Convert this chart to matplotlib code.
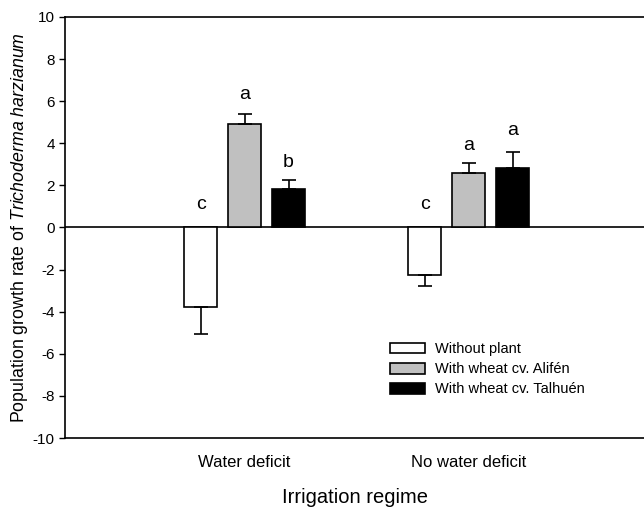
import matplotlib
matplotlib.use("Agg")
import matplotlib.pyplot as plt
import numpy as np

plt.rcParams['font.family'] = ['Liberation Sans', 'DejaVu Sans']
plt.rcParams['mathtext.fontset'] = 'custom'
plt.rcParams['mathtext.it'] = 'Liberation Sans:italic'
plt.rcParams['mathtext.rm'] = 'Liberation Sans'

groups = ["Water deficit", "No water deficit"]
series = ["Without plant", "With wheat cv. Alifén", "With wheat cv. Talhuén"]
values = {
    "Without plant": [-3.8, -2.25],
    "With wheat cv. Alifén": [4.9, 2.6],
    "With wheat cv. Talhuén": [1.85, 2.8],
}
errors = {
    "Without plant": [1.25, 0.52],
    "With wheat cv. Alifén": [0.5, 0.45],
    "With wheat cv. Talhuén": [0.4, 0.8],
}
letters = {
    "Without plant": ["c", "c"],
    "With wheat cv. Alifén": ["a", "a"],
    "With wheat cv. Talhuén": ["b", "a"],
}
letter_y = {
    "Without plant": [1.1, 1.1],
    "With wheat cv. Alifén": [6.3, 3.9],
    "With wheat cv. Talhuén": [3.1, 4.6],
}
colors = ["white", "#c0c0c0", "black"]
yticks = [-10, -8, -6, -4, -2, 0, 2, 4, 6, 8, 10]

fig = plt.figure(figsize=(6.44, 5.12), dpi=100)
ax = fig.add_axes([0.101, 0.1445, 0.899, 0.8225])

x = np.arange(len(groups))
width = 0.147
offsets = [-0.196, 0.0, 0.196]

for s, off, c in zip(series, offsets, colors):
    v = np.array(values[s])
    e = np.array(errors[s])
    lower = np.where(v < 0, e, 0)
    upper = np.where(v >= 0, e, 0)
    ax.bar(x + off, v, width, color=c, edgecolor="black", linewidth=1.2, label=s, zorder=2)
    ax.errorbar(x + off, v, yerr=[lower, upper], fmt="none", ecolor="black",
                elinewidth=1.2, capsize=5, capthick=1.2, zorder=3)
    for xi, t, ly in zip(x + off, letters[s], letter_y[s]):
        ax.text(xi, ly, t, ha="center", va="center", fontsize=14)

ax.axhline(0, color="black", linewidth=1.2, zorder=1)
ax.set_xlim(-0.80, 1.78)
ax.set_ylim(-10, 10)
ax.set_yticks(yticks)
ax.set_yticklabels([str(t) for t in yticks], fontsize=11)
ax.set_xticks(x)
ax.set_xticklabels(groups, fontsize=12)
ax.tick_params(axis="x", length=0, pad=12)
ax.tick_params(axis="y", direction="out", length=4, width=1)
for sp in ["top", "bottom", "left"]:
    ax.spines[sp].set_linewidth(1.2)
ax.spines["right"].set_visible(False)

ax.set_xlabel("Irrigation regime", fontsize=14.5, labelpad=13)
ax.set_ylabel(r"Population growth rate of $\it{Trichoderma\ harzianum}$", fontsize=12.8, labelpad=2)

leg = ax.legend(loc="lower left", bbox_to_anchor=(0.551, 0.085), frameon=False,
                fontsize=10.5, handlelength=2.4, handleheight=0.75, handletextpad=0.7,
                labelspacing=0.42, borderaxespad=0)

fig.savefig("out.png", dpi=100)
